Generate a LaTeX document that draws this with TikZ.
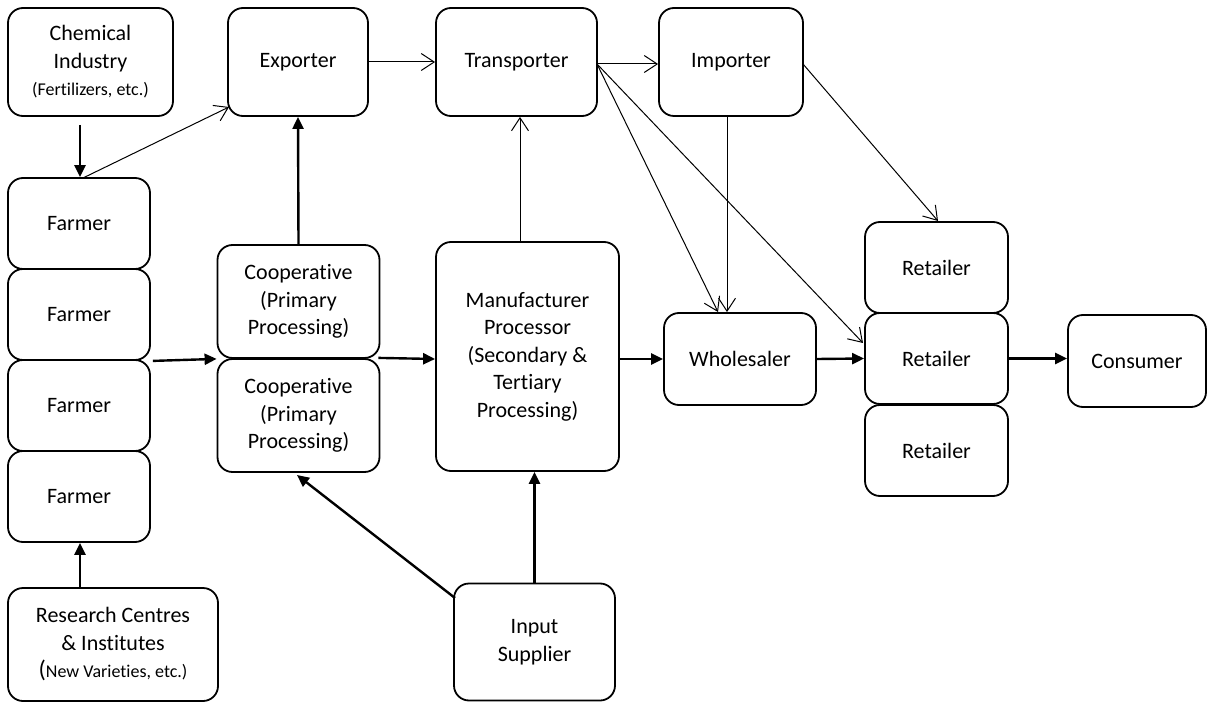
\documentclass[tikz,border=0pt]{standalone}
\usepackage{fontspec}
\setmainfont[Ligatures=NoCommon]{Carlito}
\usetikzlibrary{arrows.meta}
\begin{document}
\begin{tikzpicture}[x=1pt,y=-1pt,
  box/.style={draw, line width=1.8pt, rounded corners=15pt, align=center, inner sep=2pt,
    font=\fontsize{22}{27.5}\selectfont},
  thin/.style={line width=1pt, -{Straight Barb[length=13pt,width=17pt,line width=1pt]}},
  bold/.style={line width=2.4pt, -{Triangle[length=12pt,width=11pt]}}]
\useasboundingbox (0,0) rectangle (1207,703);
\node[box, minimum width=165pt, minimum height=108pt] (chem) at (90.5,62) {Chemical\\Industry\\{\fontsize{18}{22}\selectfont (Fertilizers, etc.)}};
\node[box, minimum width=140pt, minimum height=108pt] (exp) at (298,62) {Exporter};
\node[box, minimum width=161pt, minimum height=108pt] (trans) at (516.5,62) {Transporter};
\node[box, minimum width=144pt, minimum height=108pt] (imp) at (731,62) {Importer};
\node[box, minimum width=142pt, minimum height=91pt] (f1) at (79,223.5) {Farmer};
\node[box, minimum width=142pt, minimum height=91pt] (f2) at (79,314.5) {Farmer};
\node[box, minimum width=142pt, minimum height=91pt] (f3) at (79,405.5) {Farmer};
\node[box, minimum width=142pt, minimum height=91pt] (f4) at (79,496.5) {Farmer};
\node[box, minimum width=210pt, minimum height=113pt] (res) at (113,644.5) {Research Centres\\\& Institutes\\{\fontsize{24}{22}\selectfont(}{\fontsize{18}{22}\selectfont New Varieties, etc.)}};
\node[box, minimum width=162pt, minimum height=113pt] (c1) at (298.5,301.5) {Cooperative\\(Primary\\Processing)};
\node[box, minimum width=162pt, minimum height=113pt] (c2) at (298.5,415.5) {Cooperative\\(Primary\\Processing)};
\node[box, minimum width=183pt, minimum height=229pt] (man) at (527.5,356.5) {Manufacturer\\Processor\\(Secondary \&\\Tertiary\\Processing)};
\node[box, minimum width=152pt, minimum height=92pt] (who) at (740,359) {Wholesaler};
\node[box, minimum width=161pt, minimum height=117pt] (inp) at (534.5,642) {Input\\Supplier};
\node[box, minimum width=143pt, minimum height=91pt] (r1) at (936.5,267.5) {Retailer};
\node[box, minimum width=143pt, minimum height=91pt] (r2) at (936.5,358.5) {Retailer};
\node[box, minimum width=143pt, minimum height=91pt] (r3) at (936.5,450.5) {Retailer};
\node[box, minimum width=138pt, minimum height=92pt] (con) at (1137,361) {Consumer};
% coordinates
\coordinate (f1t) at (83,178);
\coordinate (expbl) at (229,107);
\coordinate (trR) at (597,64);
\coordinate (whoT1) at (718,312);
\coordinate (r2L) at (863,343);
\coordinate (impR) at (803,64);
\coordinate (r1T) at (938,221);
\coordinate (inpTL) at (455,598);
\coordinate (c2B) at (297,475);
% thin arrows
\draw[thin] (f1t) -- (expbl);
\draw[thin] (exp.east) -- (trans.west);
\draw[thin] (trR) -- (imp.west |- trR);
\draw[thin] (man.north -| 520,0) -- (trans.south -| 520,0);
\draw[thin] (trR) -- (whoT1);
\draw[thin] (trR) -- (r2L);
\draw[thin] (imp.south -| 727,0) -- (who.north -| 727,0);
\draw[thin] (impR) -- (r1T);
% bold arrows
\draw[bold] (chem.south -| 80,0) ++(0,8) -- (f1.north -| 80,0);
\draw[bold] (c1.north) -- (exp.south);
\draw[bold] (f2.south east) ++(2,0) -- (c1.south west);
\draw[bold] (c1.south east) ++(-2,-1) -- (man.west |- 0,359);
\draw[bold] (man.east |- 0,359) -- (who.west);
\draw[bold] (who.east) -- (r2.west);
\draw[bold] (r2.east) -- (con.west |- r2.east);
\draw[bold] (res.north -| 80,0) -- (f4.south -| 80,0);
\draw[bold] (inpTL) -- (c2B);
\draw[bold] (inp.north) -- (man.south -| inp.north);
\end{tikzpicture}
\end{document}
